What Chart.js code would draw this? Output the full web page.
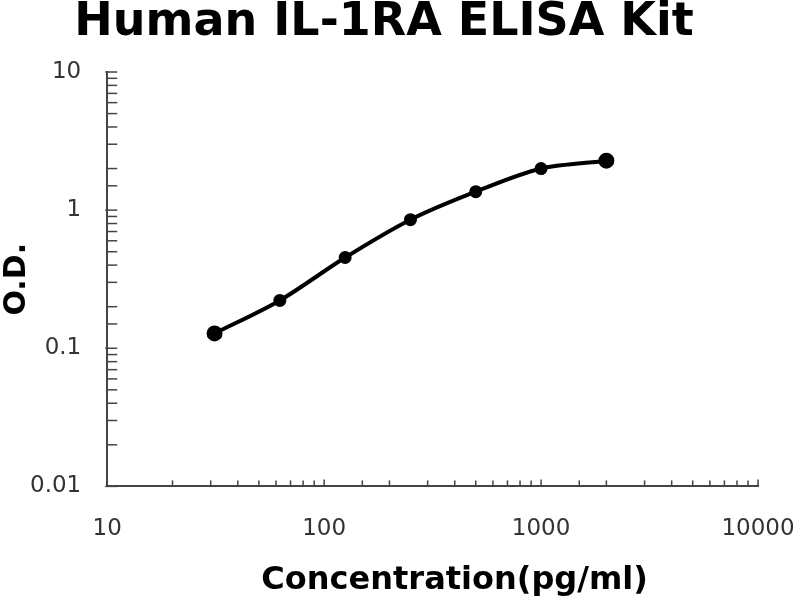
<!DOCTYPE html>
<html>
<head>
<meta charset="utf-8">
<title>Human IL-1RA ELISA Kit</title>
<script src="https://cdn.jsdelivr.net/npm/chart.js@4/dist/chart.umd.min.js"></script>
<style>
  html, body { margin: 0; padding: 0; background: #fff; }
</style>
</head>
<body>
<canvas id="elisaChart" width="800" height="600"></canvas>
<script>
// Standard curve values
const concentrations = [31.25, 62.5, 125, 250, 500, 1000, 2000];
const odValues = [0.128, 0.222, 0.454, 0.853, 1.36, 2.0, 2.28];
const xTickLabels = ['10', '100', '1000', '10000'];
const yTickLabels = ['0.01', '0.1', '1', '10'];
const xAxisTitle = 'Concentration(pg/ml)';

// true when v is a whole power of ten
function isDecade(v) {
    const e = Math.log10(v);
    return Math.abs(e - Math.round(e)) < 1e-6;
}

function decadeLabel(v, labels) {
    if (!isDecade(v)) return '';
    const found = labels.find(l => Math.abs(parseFloat(l) - v) < v * 1e-6);
    return found || '';
}

// Draw the small ticks on the inside of the axes, like the original spreadsheet chart
const insideTicks = {
    id: 'insideTicks',
    afterDraw(chart) {
        const ctx = chart.ctx;
        const xs = chart.scales.x;
        const ys = chart.scales.y;
        ctx.save();
        ctx.strokeStyle = '#444';
        ctx.lineWidth = 1.5;
        xs.ticks.forEach(t => {
            const px = xs.getPixelForValue(t.value);
            const len = isDecade(t.value) ? 7 : 6;
            ctx.beginPath();
            ctx.moveTo(px, ys.bottom);
            ctx.lineTo(px, ys.bottom - len);
            ctx.stroke();
        });
        ys.ticks.forEach(t => {
            const py = ys.getPixelForValue(t.value);
            const major = isDecade(t.value);
            ctx.beginPath();
            ctx.moveTo(xs.left - (major ? 2 : 0), py);
            ctx.lineTo(xs.left + 10, py);
            ctx.stroke();
        });
        ctx.restore();
    }
};

// x axis title sits a little right of the plot centre in the original
const xTitle = {
    id: 'xTitle',
    afterDraw(chart) {
        const ctx = chart.ctx;
        const area = chart.chartArea;
        ctx.save();
        ctx.fillStyle = '#000';
        ctx.font = "bold 32px 'DejaVu Sans'";
        ctx.textAlign = 'center';
        ctx.textBaseline = 'middle';
        ctx.fillText(xAxisTitle, (area.left + area.right) / 2 + 22, chart.height - 19);
        ctx.restore();
    }
};

const tickFont = { family: "'DejaVu Sans'", size: 23 };
const titleFont = { family: "'DejaVu Sans'", weight: 'bold' };

const ctx = document.getElementById('elisaChart').getContext('2d');
new Chart(ctx, {
    type: 'line',
    data: {
        datasets: [{
            label: 'O.D.',
            data: concentrations.map((c, i) => ({ x: c, y: odValues[i] })),
            borderColor: '#000',
            backgroundColor: '#000',
            borderWidth: 4,
            // end points look a touch larger in the original
            pointRadius: c => (c.dataIndex === 0 || c.dataIndex === concentrations.length - 1) ? 6 : 4.5,
            pointBackgroundColor: '#000',
            pointBorderColor: '#000',
            tension: 0.3,
            fill: false
        }]
    },
    options: {
        responsive: false,
        animation: false,
        layout: { padding: { left: 10, right: 42, top: 0, bottom: 28 } },
        plugins: {
            legend: { display: false },
            tooltip: { enabled: false },
            title: {
                display: true,
                text: 'Human IL-1RA ELISA Kit',
                color: '#000',
                font: { ...titleFont, size: 46, lineHeight: 1 },
                padding: { top: 0, bottom: 26 }
            }
        },
        scales: {
            x: {
                type: 'logarithmic',
                min: 10,
                max: 10000,
                grid: { display: true, drawOnChartArea: false, drawTicks: false },
                border: { display: true, color: '#444', width: 2 },
                ticks: {
                    autoSkip: false,
                    maxRotation: 0,
                    padding: 29,
                    color: '#333',
                    font: tickFont,
                    callback: v => decadeLabel(v, xTickLabels)
                },
                title: { display: false },
                // let the "10000" label hang into the right margin
                afterFit: scale => { scale.paddingRight = 0; }
            },
            y: {
                type: 'logarithmic',
                min: 0.01,
                max: 10,
                grid: { display: true, drawOnChartArea: false, drawTicks: false },
                border: { display: true, color: '#444', width: 2 },
                ticks: {
                    autoSkip: false,
                    padding: 26,
                    color: '#333',
                    font: tickFont,
                    callback: v => decadeLabel(v, yTickLabels)
                },
                title: {
                    display: true,
                    text: 'O.D.',
                    color: '#000',
                    font: { ...titleFont, size: 30, lineHeight: 1 },
                    padding: { top: -8, bottom: -28 }
                }
            }
        }
    },
    plugins: [insideTicks, xTitle]
});
</script>
</body>
</html>
